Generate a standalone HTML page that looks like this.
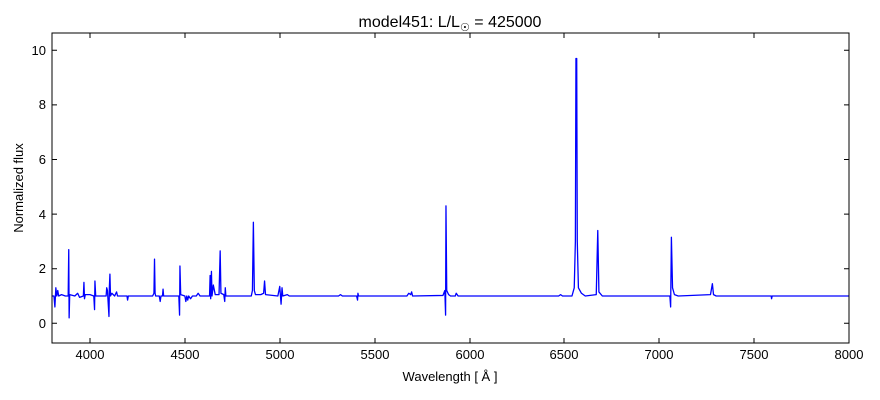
<!DOCTYPE html>
<html><head><meta charset="utf-8"><style>body{margin:0;background:#fff}svg{display:block}text{font-family:"Liberation Sans","DejaVu Sans",sans-serif;fill:#000}</style></head>
<body>
<svg width="880" height="400" xmlns="http://www.w3.org/2000/svg">
<rect width="880" height="400" fill="#fff"/>
<g transform="translate(52.05,323.3) scale(0.18975,-27.3) translate(-3800,0)">
<polyline fill="none" stroke="#0000ff" stroke-width="1.3" vector-effect="non-scaling-stroke" stroke-linejoin="round"
points="3800,1 3810,1 3815,0.6 3820,1.3 3825,1 3830,1.2 3835,1 3850,1.05 3870,1 3885,1 3888,2.7 3890,0.2 3893,1.05 3920,1 3935,1.1 3945,0.95 3965,1 3968,1.5 3971,0.9 3975,1.05 4000,1.05 4020,1 4024,0.5 4026,1.55 4030,1 4060,1 4085,1 4088,1.3 4092,1.2 4100,0.25 4102,1.3 4105,1.8 4108,1 4115,1.1 4130,1 4140,1.15 4145,1 4195,1 4198,0.85 4202,1 4330,1 4337,1.1 4340,2.35 4343,1.1 4346,1 4365,1 4370,0.8 4374,1 4382,1 4385,1.25 4388,1 4450,1 4468,1 4472,0.3 4474,2.1 4478,1.05 4500,1 4505,0.8 4510,1 4515,0.85 4520,1 4530,0.9 4540,1 4560,1 4570,1.1 4580,1 4620,1 4630,1 4633,1.75 4636,0.9 4640,1.9 4643,1 4650,1.4 4660,1.05 4680,1.05 4686,2.65 4690,1.1 4705,1.05 4710,0.8 4713,1.3 4716,1 4850,1 4856,1.2 4861,3.7 4866,1.2 4872,1.05 4900,1.05 4915,1.1 4920,1.55 4925,1.05 4990,1 5000,1.35 5007,0.7 5012,1.3 5016,1 5040,1.05 5050,1 5200,1 5310,1 5320,1.05 5330,1 5405,1 5410,0.85 5412,1.1 5415,1 5670,1 5680,1.1 5690,1.05 5695,1.15 5700,1 5860,1.02 5870,1.2 5874,0.3 5876,4.3 5880,1.2 5890,1.05 5900,1 5925,1 5930,1.1 5940,1 6300,1 6470,1 6480,1.05 6490,1 6540,1 6552,1.3 6558,3 6561,9.7 6565,9.7 6568,3 6574,1.3 6590,1.1 6600,1.05 6610,1 6668,1.05 6676,3.4 6682,1.15 6700,1 7040,1 7056,1 7060,0.6 7064,3.15 7070,1.3 7080,1.05 7100,1 7270,1.05 7280,1.45 7286,1.05 7300,1 7590,1 7592,0.9 7595,1 8000,1"/>
</g>
<rect x="52" y="33" width="797" height="310" fill="none" stroke="#000" stroke-width="1"/>
<g stroke="#000" stroke-width="1">
<path d="M90,343v-5M90,33v5M185,343v-5M185,33v5M280,343v-5M280,33v5M375,343v-5M375,33v5M470,343v-5M470,33v5M564,343v-5M564,33v5M659,343v-5M659,33v5M754,343v-5M754,33v5"/>
<path d="M52,323.3h5M849,323.3h-5M52,268.7h5M849,268.7h-5M52,214.1h5M849,214.1h-5M52,159.5h5M849,159.5h-5M52,104.9h5M849,104.9h-5M52,50.3h5M849,50.3h-5"/>
</g>
<g font-size="13" text-anchor="middle">
<text x="90" y="359">4000</text><text x="185" y="359">4500</text><text x="280" y="359">5000</text><text x="375" y="359">5500</text><text x="470" y="359">6000</text><text x="564" y="359">6500</text><text x="659" y="359">7000</text><text x="754" y="359">7500</text><text x="849" y="359">8000</text>
</g>
<g font-size="13" text-anchor="end">
<text x="46" y="328">0</text><text x="46" y="273">2</text><text x="46" y="219">4</text><text x="46" y="164">6</text><text x="46" y="109">8</text><text x="46" y="55">10</text>
</g>
<text x="450" y="381" font-size="13" text-anchor="middle">Wavelength [ Å ]</text>
<text transform="translate(23,188) rotate(-90)" font-size="13" text-anchor="middle">Normalized flux</text>
<text x="450" y="27" font-size="16" text-anchor="middle">model451: L/L<tspan font-size="11" dy="4">☉</tspan><tspan dy="-4"> = 425000</tspan></text>
</svg>
</body></html>
